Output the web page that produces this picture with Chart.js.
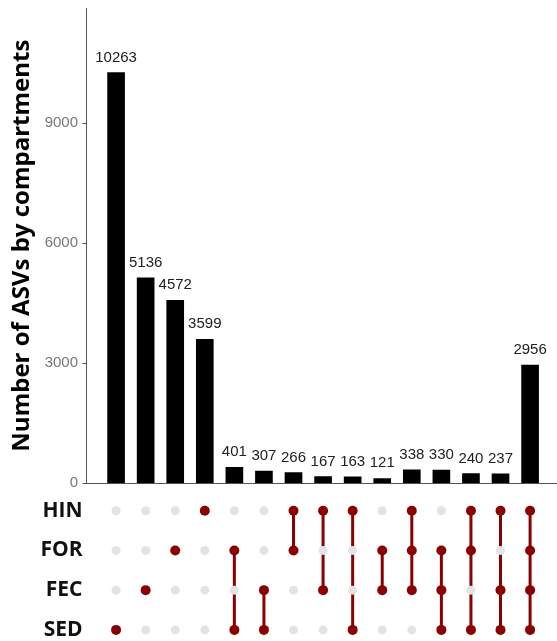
<!DOCTYPE html>
<html>
<head>
<meta charset="utf-8">
<script src="https://cdn.jsdelivr.net/npm/chart.js@4"></script>
<style>
  html, body { margin: 0; padding: 0; background: #fff; }
  #wrap { position: relative; width: 557px; height: 641px; }
</style>
</head>
<body>
<div id="wrap"><canvas id="upset"></canvas></div>
<script>
// sets, from top row to bottom row
const SETS = ["HIN", "FOR", "FEC", "SED"];
// intersection sizes, one per column
const COUNTS = [10263, 5136, 4572, 3599, 401, 307, 266, 167, 163, 121, 338, 330, 240, 237, 2956];
// which sets make each column
const MEMBERS = [
  ["SED"], ["FEC"], ["FOR"], ["HIN"],
  ["FOR", "SED"], ["FEC", "SED"], ["HIN", "FOR"], ["HIN", "FEC"], ["HIN", "SED"], ["FOR", "FEC"],
  ["HIN", "FOR", "FEC"], ["FOR", "FEC", "SED"], ["HIN", "FOR", "SED"], ["HIN", "FEC", "SED"],
  ["HIN", "FOR", "FEC", "SED"]
];
const Y_TICKS = [0, 3000, 6000, 9000];

const RED = "#8b0000";
const GREY = "#e3e3e3";

// row value on the matrix axis : HIN on top
function rowOf(name) {
  return SETS.length - 1 - SETS.indexOf(name);
}

// no extra room for the tick labels above / below the axes
function noLabelPadding(scale) {
  scale.paddingTop = 0;
  scale.paddingBottom = 0;
}

/* matrix : connectors and dots */
const connectors = [];
const dots = [];
const dotColors = [];
const dotSizes = [];

MEMBERS.forEach((m, i) => {
  const rows = m.map(rowOf);
  if (rows.length > 1) {
    connectors.push({
      type: "line",
      yAxisID: "y2",
      data: [{ x: i, y: Math.max(...rows) }, { x: i, y: Math.min(...rows) }],
      borderColor: RED,
      borderWidth: 3,
      pointRadius: 0,
      order: 2,
    });
  }
  SETS.forEach((s) => {
    const on = m.includes(s);
    dots.push({ x: i, y: rowOf(s) });
    dotColors.push(on ? RED : GREY);
    dotSizes.push(on ? 5 : 4.5);
  });
});

/* labels above the bars */
const barLabels = {
  id: "barLabels",
  afterDatasetsDraw(chart) {
    const meta = chart.getDatasetMeta(0);
    const ctx = chart.ctx;
    ctx.save();
    ctx.font = "15px 'Liberation Sans', Arial, sans-serif";
    ctx.fillStyle = "#222";
    ctx.textAlign = "center";
    ctx.textBaseline = "alphabetic";
    meta.data.forEach((bar, i) => {
      ctx.fillText(String(COUNTS[i]), bar.x, bar.y - 11);
    });
    ctx.restore();
  },
};

const ctx = document.getElementById("upset").getContext("2d");
const chart = new Chart(ctx, {
  type: "bar",
  data: {
    datasets: [
      {
        label: "size",
        yAxisID: "y",
        data: COUNTS.map((v, i) => ({ x: i, y: v })),
        backgroundColor: "#000",
        barThickness: 17,
        order: 3,
      },
      ...connectors,
      {
        type: "line",
        yAxisID: "y2",
        data: dots,
        showLine: false,
        pointRadius: dotSizes,
        pointHoverRadius: dotSizes,
        pointBackgroundColor: dotColors,
        pointBorderWidth: 0,
        order: 1,
      },
    ],
  },
  options: {
    responsive: true,
    maintainAspectRatio: false,
    animation: false,
    layout: { autoPadding: false, padding: { left: 8, top: 8, right: 0, bottom: 0 } },
    plugins: { legend: { display: false }, tooltip: { enabled: false } },
    scales: {
      x: {
        type: "linear",
        min: -1,
        max: 14.91,
        offset: false,
        display: false,
      },
      y: {
        position: "left",
        stack: "upset",
        stackWeight: 475.3,
        weight: 1,
        min: 0,
        max: 11880,
        afterBuildTicks: (axis) => {
          axis.ticks = Y_TICKS.map((v) => ({ value: v }));
        },
        afterFit: (scale) => {
          noLabelPadding(scale);
          scale.width = 78.5;
        },
        ticks: {
          callback: (v) => String(v),
          color: "#777",
          padding: 4.5,
          font: { family: "'Liberation Sans', Arial, sans-serif", size: 15 },
        },
        grid: {
          color: (c) => (c.tick && c.tick.value === 0 ? "#555" : "rgba(0,0,0,0)"),
          tickColor: "#555",
          tickLength: 4,
        },
        border: { display: true, color: "#555", width: 1 },
        title: {
          display: true,
          text: "Number of ASVs by compartments",
          color: "#000",
          font: { family: "'Open Sans'", weight: "bold", size: 24 },
          padding: { top: 0, bottom: 6 },
        },
      },
      y2: {
        type: "linear",
        position: "left",
        stack: "upset",
        stackWeight: 157.7,
        weight: 0,
        min: -0.28,
        max: 3.69,
        afterBuildTicks: (axis) => {
          axis.ticks = SETS.map((s) => ({ value: rowOf(s) }));
        },
        afterFit: noLabelPadding,
        ticks: {
          autoSkip: false,
          callback: (v) => SETS[SETS.length - 1 - v],
          color: "#111",
          crossAlign: "near",
          padding: 4,
          font: { family: "'Open Sans'", weight: "bold", size: 21 },
        },
        grid: { display: false, drawTicks: false, tickLength: 0 },
        border: { display: false },
      },
    },
  },
  plugins: [barLabels],
});
</script>
</body>
</html>
